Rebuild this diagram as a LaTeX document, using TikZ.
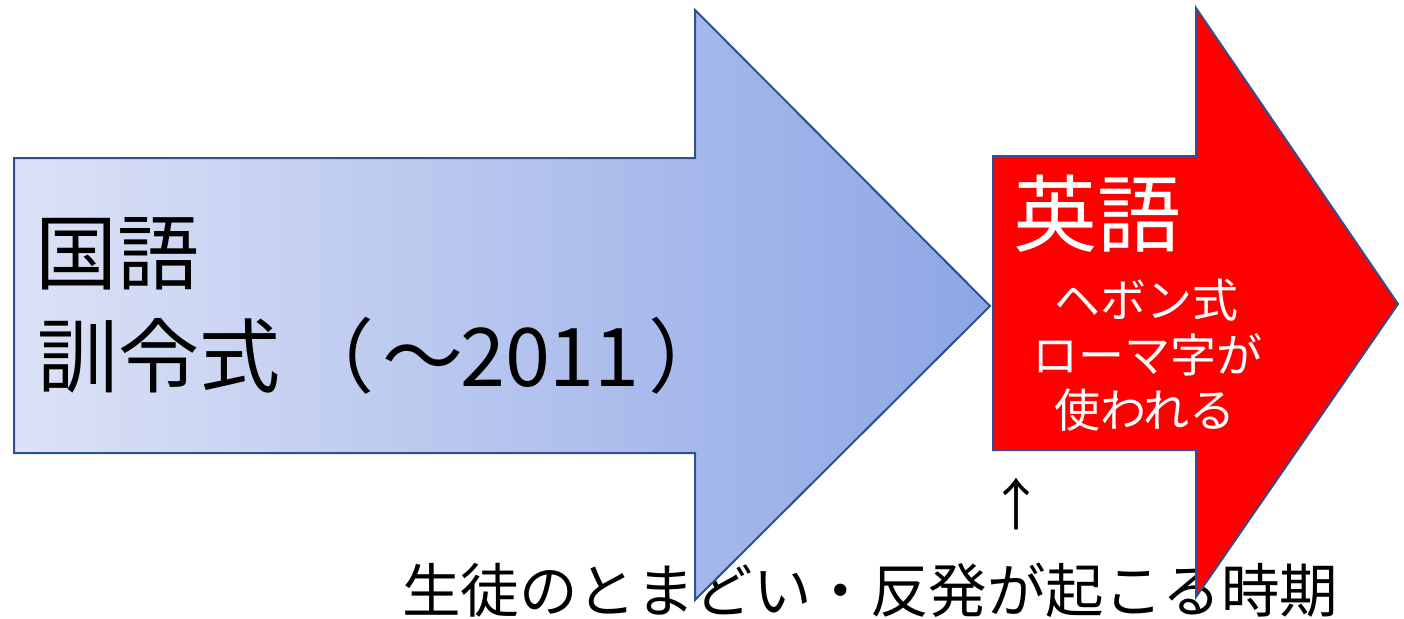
\documentclass[tikz,border=0pt]{standalone}
\usepackage{fontspec}
\newfontfamily\jp{Noto Sans CJK JP}
\definecolor{edgeblue}{HTML}{2F528F}
\definecolor{gradL}{HTML}{DCE2F6}
\definecolor{gradR}{HTML}{8EA6E6}
\tikzset{
  arrowshape/.style={line width=2pt, draw=edgeblue, line join=miter},
  lbl/.style={inner sep=0pt, outer sep=0pt, anchor=base west, font=\jp},
  lblc/.style={inner sep=0pt, outer sep=0pt, anchor=base, font=\jp},
}
\begin{document}
\begin{tikzpicture}[x=1pt,y=-1pt]
\useasboundingbox (0,0) rectangle (1404,618);
% bottom caption (behind the arrows)
\node[lbl, font=\jp\fontsize{58.5}{58.5}\selectfont] (cap) at (402,612) {生徒のとまどい・反発が起こる時期};
% blue arrow
\shadedraw[arrowshape, left color=gradL, right color=gradR]
  (14,158) -- (695,158) -- (695,10) -- (990,306) -- (695,600) -- (695,453) -- (14,453) -- cycle;
% red arrow
\filldraw[arrowshape, fill=red]
  (993,156) -- (1196,156) -- (1196,8) -- (1398,304) -- (1196,597) -- (1196,450) -- (993,450) -- cycle;
% texts in blue arrow
\node[lbl, font=\jp\fontsize{82}{82}\selectfont] (kokugo) at (35,283) {国語};
\node[lbl, font=\jp\fontsize{81}{81}\selectfont] (kunrei) at (37,386) {訓令式\kern14pt（\kern8pt～\kern-4pt 2011\kern9pt）};
% texts in red arrow
\node[lbl, text=white, font=\jp\fontsize{84}{84}\selectfont] (eigo) at (1013,245) {英語};
\node[lblc, text=white, font=\jp\fontsize{46}{46}\selectfont] (l1) at (1146,317) {ヘボン式};
\node[lblc, text=white, font=\jp\fontsize{46}{46}\selectfont] (l2) at (1147,372) {ローマ字が};
\node[lblc, text=white, font=\jp\fontsize{46}{46}\selectfont] (l3) at (1145,427) {使われる};
% up arrow glyph
\node[lblc, font=\jp\fontsize{56}{56}\selectfont] (up) at (1016,525) {↑};
\end{tikzpicture}
\end{document}
